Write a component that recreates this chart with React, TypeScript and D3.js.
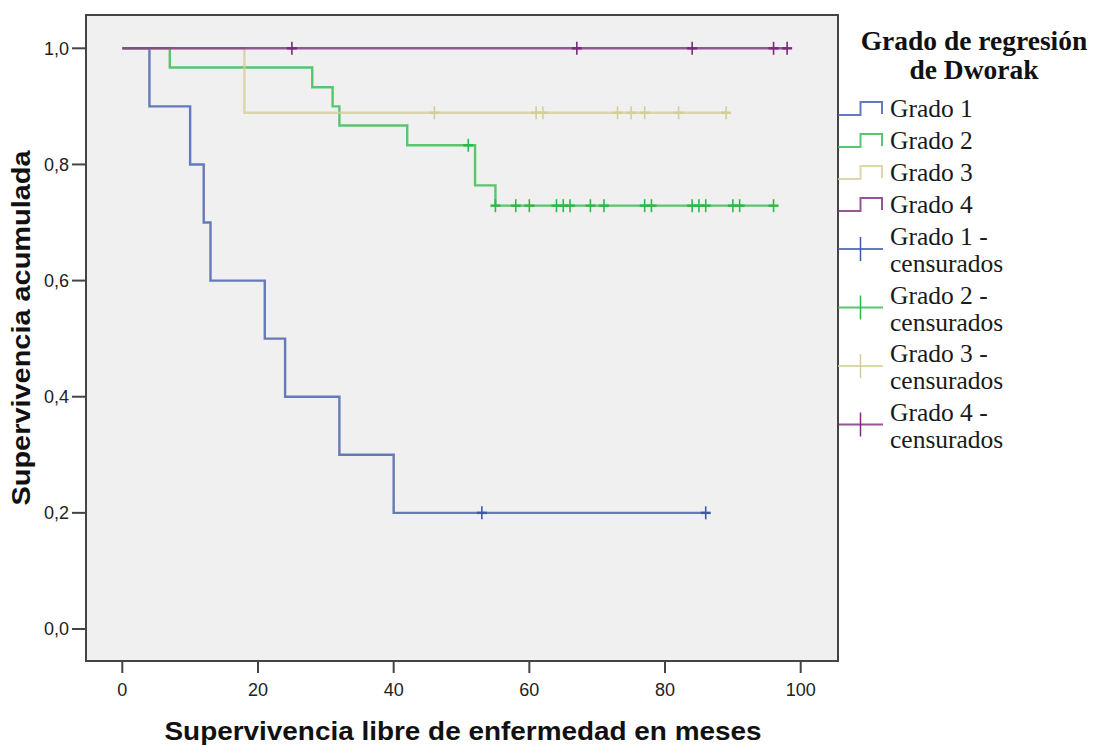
import React from "react";
import * as d3 from "d3";

// Kaplan–Meier steps per Dworak regression grade: [months, cumulative survival]
const grado1Steps: [number, number][] = [
  [0, 1.0], [4, 0.9], [10, 0.8], [12, 0.7], [13, 0.6], [21, 0.5], [24, 0.4], [32, 0.3], [40, 0.2],
];
const grado2Steps: [number, number][] = [
  [0, 1.0], [7, 0.967], [28, 0.933], [31, 0.9], [32, 0.867], [42, 0.833], [52, 0.764], [55, 0.729],
];
const grado3Steps: [number, number][] = [[0, 1.0], [18, 0.889]];
const grado4Steps: [number, number][] = [[0, 1.0]];

// Censored observations (months)
const grado1Censored = [53, 86];
const grado2Censored = [51, 55, 58, 60, 64, 65, 66, 69, 71, 77, 78, 84, 85, 86, 90, 91, 96];
const grado3Censored = [46, 61, 62, 73, 75, 77, 82, 89];
const grado4Censored = [25, 67, 84, 96, 98];

// Last follow-up time of each group
const followUpEnd = [86, 96, 89, 98];

const groupNames = ["Grado 1", "Grado 2", "Grado 3", "Grado 4"];
const groupColors = ["#3e58ac", "#2eb848", "#d3ce97", "#7c287d"];

const xTicks = [0, 20, 40, 60, 80, 100];
const yTicks = [0, 0.2, 0.4, 0.6, 0.8, 1.0];

const xTitle = "Supervivencia libre de enfermedad en meses";
const yTitle = "Supervivencia acumulada";
const legendTitle = ["Grado de regresión", "de Dworak"];

const W = 1097;
const H = 745;
const frame = { left: 86, top: 15, right: 838, bottom: 661 };

const x = d3.scaleLinear().domain([0, 100]).range([122.3, 800.7]);
const y = d3.scaleLinear().domain([0, 1]).range([629, 48.3]);

const survivalAt = (steps: [number, number][], t: number) => {
  let s = steps[0][1];
  for (const [tt, v] of steps) if (tt <= t) s = v;
  return s;
};

const stepLine = d3
  .line<[number, number]>()
  .x((d) => x(d[0]))
  .y((d) => y(d[1]))
  .curve(d3.curveStepAfter);

const fmt = (v: number) => d3.format(".1f")(v).replace(".", ",");

export default function App() {
  const steps = [grado1Steps, grado2Steps, grado3Steps, grado4Steps];
  const censored = [grado1Censored, grado2Censored, grado3Censored, grado4Censored];

  const legendX0 = 838;
  const legendX1 = 883;
  const textX = 890;
  const simpleBase = [117, 149, 181, 213];
  const censBase = [245, 303.5, 362, 420.5];

  return (
    <div style={{ position: "absolute", left: 0, top: 0 }}>
      <svg width={W} height={H} style={{ display: "block", background: "#ffffff" }}>
        <rect
          x={frame.left}
          y={frame.top}
          width={frame.right - frame.left}
          height={frame.bottom - frame.top}
          fill="#f0f0f0"
        />

        {/* survival curves */}
        {steps.map((s, i) => {
          const pts: [number, number][] = [...s, [followUpEnd[i], s[s.length - 1][1]]];
          return (
            <path
              key={"c" + i}
              d={stepLine(pts) || ""}
              fill="none"
              stroke={groupColors[i]}
              strokeWidth={2.4}
              strokeOpacity={0.78}
            />
          );
        })}

        {/* censor marks */}
        {censored.map((cs, i) =>
          cs.map((t, j) => {
            const cx = x(t);
            const cy = y(survivalAt(steps[i], t));
            return (
              <g key={"m" + i + "-" + j} stroke={groupColors[i]} strokeWidth={1.6}>
                <line x1={cx} x2={cx} y1={cy - 6.5} y2={cy + 6.5} />
                <line x1={cx - 5} x2={cx + 5} y1={cy} y2={cy} strokeWidth={2.4} />
              </g>
            );
          })
        )}

        {/* frame */}
        <rect
          x={frame.left}
          y={frame.top}
          width={frame.right - frame.left}
          height={frame.bottom - frame.top}
          fill="none"
          stroke="#444444"
          strokeWidth={2}
        />

        {/* y axis */}
        {yTicks.map((v) => (
          <g key={"y" + v}>
            <line x1={72} x2={frame.left} y1={y(v)} y2={y(v)} stroke="#444444" strokeWidth={2} />
            <text
              x={69}
              y={y(v)}
              dy="0.35em"
              textAnchor="end"
              fontFamily="Liberation Sans, Arial, sans-serif"
              fontSize={18}
              fill="#222222"
            >
              {fmt(v)}
            </text>
          </g>
        ))}

        {/* x axis */}
        {xTicks.map((v) => (
          <g key={"x" + v}>
            <line x1={x(v)} x2={x(v)} y1={frame.bottom} y2={673} stroke="#444444" strokeWidth={2} />
            <text
              x={x(v)}
              y={696}
              textAnchor="middle"
              fontFamily="Liberation Sans, Arial, sans-serif"
              fontSize={18}
              fill="#222222"
            >
              {v}
            </text>
          </g>
        ))}

        <text
          x={463}
          y={740}
          textAnchor="middle"
          fontFamily="Liberation Sans, Arial, sans-serif"
          fontWeight="bold"
          fontSize={26}
          textLength={597}
          lengthAdjust="spacingAndGlyphs"
          fill="#111111"
        >
          {xTitle}
        </text>
        <text
          transform={`translate(30, 328) rotate(-90)`}
          textAnchor="middle"
          fontFamily="Liberation Sans, Arial, sans-serif"
          fontWeight="bold"
          fontSize={26}
          textLength={355}
          lengthAdjust="spacingAndGlyphs"
          fill="#111111"
        >
          {yTitle}
        </text>

        {/* legend */}
        {legendTitle.map((t, i) => (
          <text
            key={"lt" + i}
            x={974}
            y={50 + i * 29}
            textAnchor="middle"
            fontFamily="Liberation Serif, Times New Roman, serif"
            fontWeight="bold"
            fontSize={27.5}
            fill="#111111"
          >
            {t}
          </text>
        ))}

        {groupNames.map((name, i) => {
          const b = simpleBase[i];
          const lo = b - 2;
          const hi = b - 15;
          const mid = (legendX0 + legendX1) / 2;
          return (
            <g key={"ls" + i}>
              <path
                d={`M${legendX0},${lo}H${mid}V${hi}H${legendX1 - 1}V${lo - 1}`}
                fill="none"
                stroke={groupColors[i]}
                strokeWidth={2}
                strokeOpacity={0.8}
              />
              <text
                x={textX}
                y={b}
                fontFamily="Liberation Serif, Times New Roman, serif"
                fontSize={25.5}
                fill="#1a1a1a"
              >
                {name}
              </text>
            </g>
          );
        })}

        {groupNames.map((name, i) => {
          const b = censBase[i];
          const cy = b + 4;
          const mid = (legendX0 + legendX1) / 2;
          return (
            <g key={"lc" + i}>
              <line x1={legendX0} x2={legendX1} y1={cy} y2={cy} stroke={groupColors[i]} strokeWidth={2} strokeOpacity={0.8} />
              <line x1={mid} x2={mid} y1={cy - 12} y2={cy + 12} stroke={groupColors[i]} strokeWidth={1.5} />
              <text
                x={textX}
                y={b}
                fontFamily="Liberation Serif, Times New Roman, serif"
                fontSize={25.5}
                fill="#1a1a1a"
              >
                {name + " -"}
              </text>
              <text
                x={textX}
                y={b + 27}
                fontFamily="Liberation Serif, Times New Roman, serif"
                fontSize={25.5}
                fill="#1a1a1a"
              >
                censurados
              </text>
            </g>
          );
        })}
      </svg>
    </div>
  );
}
